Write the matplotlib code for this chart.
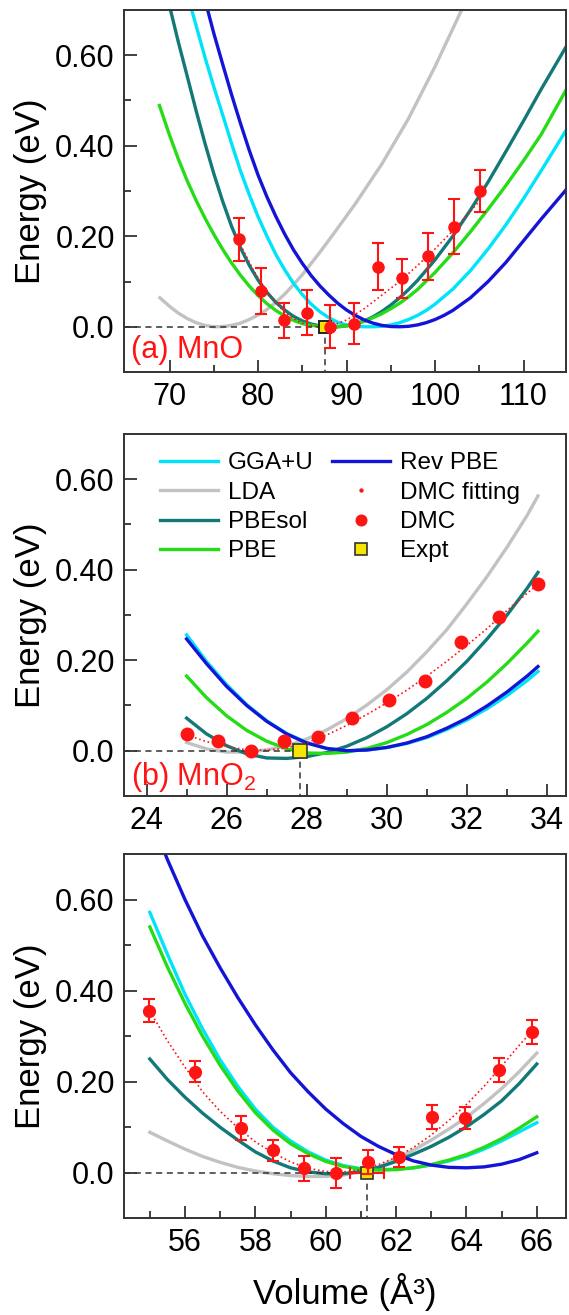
import matplotlib
matplotlib.use('Agg')
import matplotlib.pyplot as plt
from matplotlib.lines import Line2D
from matplotlib.transforms import blended_transform_factory

plt.rcParams['font.family'] = ['Liberation Sans', 'DejaVu Sans']
plt.rcParams['mathtext.fontset'] = 'custom'
plt.rcParams['mathtext.rm'] = 'Liberation Sans'
plt.rcParams['mathtext.it'] = 'Liberation Sans:italic'

# ---------------- data ----------------
names = ['GGA+U', 'LDA', 'PBEsol', 'PBE', 'Rev PBE']
colors = ['#00e4fa', '#c2c2c2', '#137878', '#26dc16', '#1414d6']
red = '#ff1414'
yellow = '#f4e600'

y_ticks = [0.0, 0.2, 0.4, 0.6]
y_tick_labels = ['0.0', '0.20', '0.40', '0.60']
y_minor = [0.1, 0.3, 0.5]

# (a) MnO : (volume, energy) pairs
mno_gga = [(72.5, 0.70), (73, 0.665), (74, 0.595), (75, 0.53), (76, 0.468), (77, 0.405),
           (78, 0.345), (79, 0.292), (80, 0.243), (81, 0.2), (82, 0.16), (83, 0.126),
           (84, 0.096), (85, 0.071), (86, 0.05), (87, 0.033), (88, 0.02), (89, 0.01),
           (90, 0.004), (91, 0.001), (92, 0.0), (93, 0.0), (94, 0.001), (95, 0.004),
           (96, 0.009), (97, 0.016), (98, 0.025), (99, 0.036), (100, 0.05), (102, 0.083),
           (104, 0.124), (106, 0.172), (108, 0.225), (110, 0.283), (112, 0.345), (115, 0.44)]
mno_lda = [(68.9, 0.064), (70, 0.045), (71, 0.03), (72, 0.018), (73, 0.009), (74, 0.003),
           (75, 0.0), (76, 0.0005), (77, 0.003), (78, 0.008), (79, 0.016), (80, 0.026),
           (81, 0.038), (82, 0.054), (83, 0.072), (84, 0.093), (85, 0.115), (87, 0.165),
           (89, 0.218), (91, 0.272), (94, 0.36), (97, 0.46), (100, 0.575), (103, 0.70)]
mno_pbesol = [(70.1, 0.70), (71, 0.628), (72, 0.553), (73, 0.477), (74, 0.405), (75, 0.338),
              (76, 0.277), (77, 0.222), (78, 0.175), (79, 0.136), (80, 0.103), (81, 0.076),
              (82, 0.054), (83, 0.037), (84, 0.023), (85, 0.013), (86, 0.006), (87, 0.002),
              (88, 0.0), (89, 0.0), (90, 0.002), (91, 0.006), (92, 0.013), (93, 0.022),
              (94, 0.034), (95, 0.048), (96, 0.064), (97, 0.082), (98, 0.102), (100, 0.148),
              (102, 0.2), (104, 0.258), (106, 0.32), (108, 0.387), (110, 0.455), (112, 0.525),
              (115, 0.625)]
mno_pbe = [(68.85, 0.489), (70, 0.423), (71, 0.37), (72, 0.322), (73, 0.279), (74, 0.24),
           (75, 0.204), (76, 0.171), (77, 0.141), (78, 0.114), (79, 0.09), (80, 0.069),
           (81, 0.051), (82, 0.036), (83, 0.024), (84, 0.014), (85, 0.007), (86, 0.003),
           (87, 0.001), (88, 0.0), (89, 0.0), (90, 0.002), (91, 0.006), (92, 0.012),
           (93, 0.02), (94, 0.029), (95, 0.04), (96, 0.052), (97, 0.066), (98, 0.082),
           (100, 0.12), (102, 0.163), (104, 0.21), (106, 0.26), (108, 0.312), (110, 0.367),
           (112, 0.425), (115, 0.53)]
mno_rev = [(74.3, 0.70), (75, 0.648), (76, 0.58), (77, 0.513), (78, 0.45), (79, 0.39),
           (80, 0.335), (81, 0.287), (82, 0.244), (83, 0.205), (84, 0.17), (85, 0.14),
           (86, 0.113), (87, 0.09), (88, 0.07), (89, 0.052), (90, 0.037), (91, 0.025),
           (92, 0.015), (93, 0.008), (94, 0.003), (95, 0.0005), (96, 0.0), (97, 0.001),
           (98, 0.004), (99, 0.009), (100, 0.016), (101, 0.025), (102, 0.036), (104, 0.064),
           (106, 0.1), (108, 0.142), (110, 0.19), (112, 0.238), (115, 0.307)]
mno_dmc_v = [77.8, 80.3, 82.9, 85.5, 88.1, 90.8, 93.5, 96.3, 99.2, 102.1, 105.1]
mno_dmc_e = [0.193, 0.079, 0.014, 0.031, 0.0, 0.007, 0.133, 0.107, 0.156, 0.221, 0.300]
mno_dmc_err = [0.048, 0.050, 0.039, 0.050, 0.048, 0.045, 0.052, 0.043, 0.052, 0.061, 0.046]
mno_fit = [(77.8, 0.19), (78.5, 0.162), (79.5, 0.124), (80.5, 0.092), (81.5, 0.064),
           (82.5, 0.042), (83.5, 0.025), (84.5, 0.012), (85.5, 0.004), (86.5, 0.001),
           (87.5, 0.0), (88.5, 0.003), (90, 0.015), (92, 0.04), (94, 0.07), (96, 0.1),
           (98, 0.135), (100, 0.172), (102, 0.212), (104, 0.255), (105.1, 0.28)]
mno_expt_v = 87.55

# (b) MnO2
mno2_v = [25.0, 25.5, 26.0, 26.5, 27.0, 27.5, 28.0, 28.5, 29.0, 29.5, 30.0, 30.5,
          31.0, 31.5, 32.0, 32.5, 33.0, 33.5, 33.77]
mno2_gga = [0.256, 0.197, 0.146, 0.102, 0.066, 0.038, 0.018, 0.005, 0.0, 0.0015, 0.007,
            0.016, 0.029, 0.047, 0.068, 0.093, 0.122, 0.155, 0.175]
mno2_lda = [0.018, 0.004, -0.003, -0.003, 0.002, 0.011, 0.026, 0.046, 0.071, 0.101, 0.135,
            0.174, 0.219, 0.268, 0.325, 0.385, 0.45, 0.52, 0.563]
mno2_pbesol = [0.072, 0.037, 0.011, -0.007, -0.016, -0.017, -0.013, -0.004, 0.010, 0.029,
               0.053, 0.082, 0.116, 0.155, 0.198, 0.247, 0.300, 0.359, 0.394]
mno2_pbe = [0.165, 0.117, 0.077, 0.045, 0.021, 0.004, -0.005, -0.006, -0.003, 0.005, 0.018,
            0.036, 0.058, 0.085, 0.116, 0.152, 0.193, 0.238, 0.264]
mno2_rev = [0.247, 0.192, 0.142, 0.100, 0.065, 0.037, 0.017, 0.005, 0.0, 0.0016, 0.0073,
            0.017, 0.031, 0.050, 0.072, 0.099, 0.130, 0.165, 0.186]
mno2_fit = [0.035, 0.02, 0.009, 0.002, 0.001, 0.006, 0.018, 0.035, 0.056, 0.08, 0.106,
            0.134, 0.165, 0.198, 0.233, 0.27, 0.31, 0.348, 0.368]
mno2_dmc_v = [25.0, 25.78, 26.6, 27.44, 28.27, 29.14, 30.06, 30.95, 31.86, 32.8, 33.76]
mno2_dmc_e = [0.037, 0.021, 0.0, 0.022, 0.031, 0.072, 0.112, 0.155, 0.240, 0.295, 0.369]
mno2_expt_v = 27.82

# (c) third compound
p3_v = [55.0, 55.5, 56.0, 56.5, 57.0, 57.5, 58.0, 58.5, 59.0, 59.5, 60.0, 60.5, 61.0,
        61.5, 62.0, 62.5, 63.0, 63.5, 64.0, 64.5, 65.0, 65.5, 66.0]
p3_gga = [0.572, 0.48, 0.392, 0.316, 0.248, 0.19, 0.14, 0.10, 0.07, 0.046, 0.028, 0.016,
          0.009, 0.007, 0.008, 0.011, 0.017, 0.026, 0.037, 0.052, 0.07, 0.09, 0.11]
p3_lda = [0.089, 0.07, 0.052, 0.036, 0.023, 0.012, 0.004, -0.002, -0.006, -0.008, -0.008,
          -0.005, 0.002, 0.013, 0.03, 0.05, 0.072, 0.096, 0.122, 0.152, 0.185, 0.222, 0.263]
p3_pbesol = [0.25, 0.205, 0.166, 0.131, 0.10, 0.072, 0.046, 0.026, 0.011, 0.002, -0.002,
             -0.002, 0.003, 0.012, 0.025, 0.041, 0.058, 0.078, 0.101, 0.128, 0.158, 0.196, 0.239]
p3_pbe = [0.54, 0.452, 0.372, 0.30, 0.236, 0.18, 0.132, 0.094, 0.064, 0.042, 0.025, 0.014,
          0.008, 0.006, 0.007, 0.011, 0.018, 0.028, 0.04, 0.056, 0.075, 0.098, 0.123]
p3_rev = [0.785, 0.688, 0.60, 0.52, 0.45, 0.385, 0.325, 0.27, 0.22, 0.178, 0.14, 0.108,
          0.08, 0.058, 0.04, 0.026, 0.017, 0.012, 0.011, 0.013, 0.019, 0.029, 0.044]
p3_fit_v = [55.0, 55.5, 56.0, 56.5, 57.0, 57.5, 58.0, 58.5, 59.0, 59.5, 60.0, 60.5, 61.0,
            61.5, 62.0, 62.5, 63.0, 63.5, 64.0, 64.5, 65.0, 65.5, 65.85]
p3_fit = [0.355, 0.29, 0.232, 0.178, 0.135, 0.099, 0.068, 0.044, 0.024, 0.01, 0.003, 0.002,
          0.007, 0.018, 0.034, 0.056, 0.083, 0.115, 0.15, 0.19, 0.234, 0.28, 0.31]
p3_dmc_v = [54.97, 56.29, 57.59, 58.49, 59.37, 60.29, 61.19, 62.08, 63.02, 63.97, 64.92, 65.85]
p3_dmc_e = [0.356, 0.222, 0.098, 0.050, 0.010, 0.0, 0.024, 0.035, 0.123, 0.121, 0.226, 0.310]
p3_dmc_err = [0.025, 0.023, 0.026, 0.023, 0.027, 0.033, 0.026, 0.022, 0.027, 0.024, 0.026, 0.026]
p3_expt_v = 61.17
p3_expt_err = 0.49

# ---------------- figure ----------------
fig = plt.figure(figsize=(5.69, 13.15), dpi=100)
ax1 = fig.add_axes([0.2188, 0.7171, 0.7759, 0.2753])
ax2 = fig.add_axes([0.2188, 0.3947, 0.7759, 0.2753])
ax3 = fig.add_axes([0.2188, 0.0735, 0.7759, 0.2770])

draw_order = [1, 0, 2, 3, 4]


def style(ax, xlim, major, minor):
    ax.set_xlim(xlim)
    ax.set_ylim(-0.1, 0.7)
    ax.set_xticks(major)
    ax.set_xticks(minor, minor=True)
    ax.set_yticks(y_ticks)
    ax.set_yticklabels(y_tick_labels)
    ax.set_yticks(y_minor, minor=True)
    ax.tick_params(which='both', direction='in', top=False, right=False,
                   labelsize=22, width=1.3, color='#333333')
    ax.tick_params(which='major', length=9, pad=7)
    ax.tick_params(which='minor', length=5)
    for s in ax.spines.values():
        s.set_linewidth(1.4)
        s.set_color('#333333')
    ax.set_ylabel('Energy (eV)', fontsize=25, labelpad=6)


def expt_lines(ax, v):
    x0 = ax.get_xlim()[0]
    ax.plot([x0, v], [0, 0], ls=(0, (4, 3)), color='#333333', lw=1.1, zorder=3)
    ax.plot([v, v], [0, -0.1], ls=(0, (4, 3)), color='#333333', lw=1.1, zorder=3)


def panel_label(ax, txt, y):
    tr = blended_transform_factory(ax.transAxes, ax.transData)
    ax.text(0.015, y, txt, transform=tr, color=red, fontsize=22, va='center')


# panel (a)
style(ax1, (64.9, 114.8), [70, 80, 90, 100, 110], [75, 85, 95, 105])
curves1 = [mno_gga, mno_lda, mno_pbesol, mno_pbe, mno_rev]
for i in draw_order:
    ax1.plot([p[0] for p in curves1[i]], [p[1] for p in curves1[i]],
             color=colors[i], lw=2.4, zorder=2)
ax1.plot([p[0] for p in mno_fit], [p[1] for p in mno_fit], ls=':', color=red, lw=1.2, zorder=3)
expt_lines(ax1, mno_expt_v)
ax1.plot([mno_expt_v], [0.0], 's', ms=8.5, mfc=yellow, mec='#222222', mew=1.4, zorder=4)
ax1.errorbar(mno_dmc_v, mno_dmc_e, yerr=mno_dmc_err, fmt='o', color=red, ms=8,
             capsize=4, elinewidth=1.5, capthick=1.5, zorder=5)
panel_label(ax1, '(a) MnO', -0.052)

# panel (b)
style(ax2, (23.45, 34.47), [24, 26, 28, 30, 32, 34], [25, 27, 29, 31, 33])
curves2 = [mno2_gga, mno2_lda, mno2_pbesol, mno2_pbe, mno2_rev]
handles = [None] * 5
for i in draw_order:
    handles[i], = ax2.plot(mno2_v, curves2[i], color=colors[i], lw=2.4, zorder=2)
ax2.plot(mno2_v, mno2_fit, ls=':', color=red, lw=1.2, zorder=3)
expt_lines(ax2, mno2_expt_v)
dmc_h, = ax2.plot(mno2_dmc_v, mno2_dmc_e, 'o', color=red, ms=9, ls='none', zorder=4)
expt_h, = ax2.plot([mno2_expt_v], [0.0], 's', ms=10, mfc=yellow, mec='#333333',
                   mew=1.2, ls='none', zorder=5)
fit_h = Line2D([], [], ls='none', marker='o', ms=2.5, color=red)
ax2.legend(handles + [fit_h, dmc_h, expt_h],
           names + ['DMC fitting', 'DMC', 'Expt'],
           ncol=2, loc='upper left', bbox_to_anchor=(0.08, 0.949), frameon=False,
           fontsize=17.5, handlelength=2.4, handletextpad=0.4, columnspacing=0.75,
           labelspacing=0.3, borderpad=0, borderaxespad=0, markerscale=0.85)
panel_label(ax2, '(b) MnO$_2$', -0.058)

# panel (c)
style(ax3, (54.28, 66.83), [56, 58, 60, 62, 64, 66], [55, 57, 59, 61, 63, 65])
curves3 = [p3_gga, p3_lda, p3_pbesol, p3_pbe, p3_rev]
for i in draw_order:
    ax3.plot(p3_v, curves3[i], color=colors[i], lw=2.4, zorder=2)
ax3.plot(p3_fit_v, p3_fit, ls=':', color=red, lw=1.2, zorder=3)
expt_lines(ax3, p3_expt_v)
ax3.errorbar([p3_expt_v], [0.0], xerr=[p3_expt_err], fmt='none', ecolor=red,
             capsize=4, elinewidth=1.5, capthick=1.5, zorder=3)
ax3.plot([p3_expt_v], [0.0], 's', ms=9, mfc=yellow, mec='#333333', mew=1.2, zorder=4)
ax3.errorbar(p3_dmc_v, p3_dmc_e, yerr=p3_dmc_err, fmt='o', color=red, ms=8.5,
             capsize=4, elinewidth=1.5, capthick=1.5, zorder=5)
ax3.set_xlabel('Volume (Å³)', fontsize=25, labelpad=11)

fig.savefig('out.png', dpi=100)
